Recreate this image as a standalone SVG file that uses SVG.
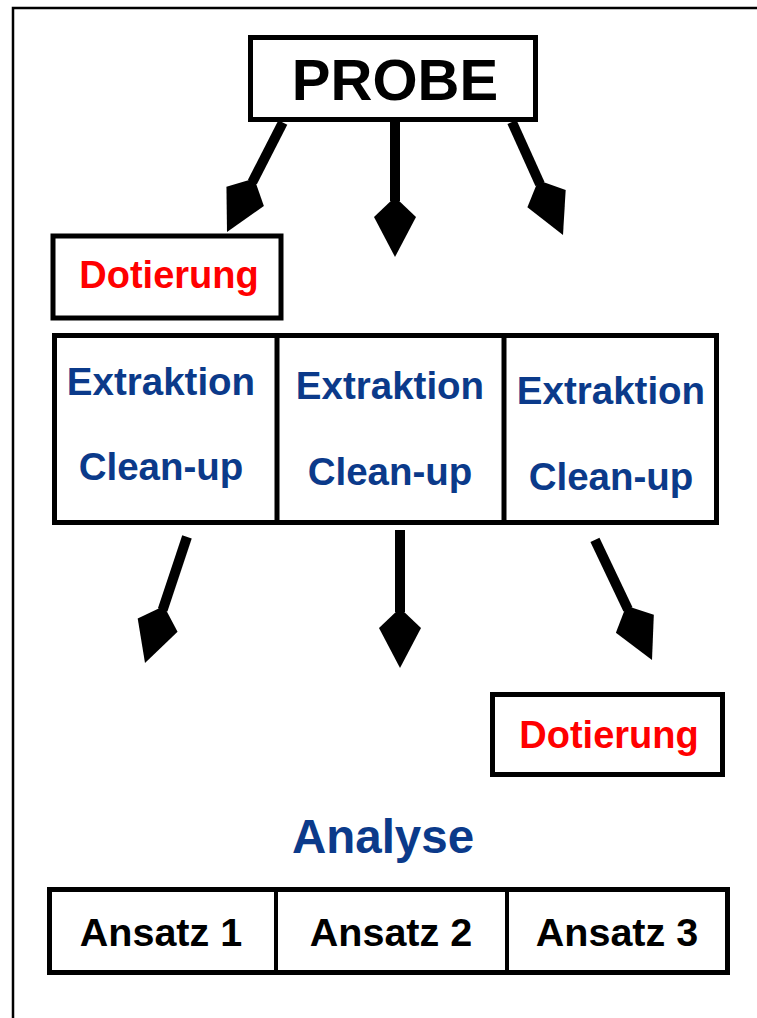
<svg xmlns="http://www.w3.org/2000/svg" width="757" height="1018" viewBox="0 0 757 1018">
<style>
.box{fill:#fff;stroke:#000;stroke-width:5}
.t{font-family:"Liberation Sans",Arial,sans-serif;font-weight:bold;text-anchor:middle}
.red{fill:#ff0000;font-size:38px}
.blue{fill:#0b3a8a;font-size:38.5px}
.blk{fill:#000;font-size:39.5px}
.shaft{stroke:#000;stroke-width:10;fill:none}
.head{fill:#000}
</style>
<defs>
<path id="hd" d="M0,-60 L21,-40 L0,0 L-21,-40 Z"/>
</defs>
<rect width="757" height="1018" fill="#fff"/>
<path d="M13,1018 V8 H757" fill="none" stroke="#000" stroke-width="2.5"/>

<g id="connectors">
  <g transform="translate(227,232) rotate(27)"><line class="shaft" x1="0" y1="-123" x2="0" y2="-56"/><use href="#hd" class="head"/></g>
  <g transform="translate(395,257)"><line class="shaft" x1="0" y1="-135" x2="0" y2="-56"/><use href="#hd" class="head"/></g>
  <g transform="translate(563,235) rotate(-24.3)"><line class="shaft" x1="0" y1="-124" x2="0" y2="-56"/><use href="#hd" class="head"/></g>
  <g transform="translate(145,663) rotate(18.4)"><line class="shaft" x1="0" y1="-133" x2="0" y2="-56"/><use href="#hd" class="head"/></g>
  <g transform="translate(400,668)"><line class="shaft" x1="0" y1="-138" x2="0" y2="-56"/><use href="#hd" class="head"/></g>
  <g transform="translate(652,660) rotate(-25.4)"><line class="shaft" x1="0" y1="-133" x2="0" y2="-56"/><use href="#hd" class="head"/></g>
</g>

<g id="probe">
  <rect class="box" x="250.5" y="37.5" width="285" height="82"/>
  <text class="t" x="395" y="100" style="font-size:58px;fill:#000">PROBE</text>
</g>

<g id="dotierung1">
  <rect class="box" x="53" y="236" width="228" height="82"/>
  <text class="t red" x="169" y="288">Dotierung</text>
</g>

<g id="extraktion">
  <rect class="box" x="54.5" y="335.5" width="662" height="187"/>
  <line x1="277" y1="335" x2="277" y2="523" stroke="#000" stroke-width="5"/>
  <line x1="504" y1="335" x2="504" y2="523" stroke="#000" stroke-width="5"/>
</g>
<g id="ext1">
  <text class="t blue" x="161" y="395">Extraktion</text>
  <text class="t blue" x="161" y="480">Clean-up</text>
</g>
<g id="ext2">
  <text class="t blue" x="390" y="399">Extraktion</text>
  <text class="t blue" x="390" y="485">Clean-up</text>
</g>
<g id="ext3">
  <text class="t blue" x="611" y="404">Extraktion</text>
  <text class="t blue" x="611" y="490">Clean-up</text>
</g>

<g id="dotierung2">
  <rect class="box" x="492.5" y="694.5" width="230" height="80"/>
  <text class="t red" x="609" y="748">Dotierung</text>
</g>

<g id="analyse">
  <text class="t" x="383" y="853" style="font-size:47.5px;fill:#0b3a8a">Analyse</text>
</g>

<g id="ansatz">
  <rect class="box" x="49.5" y="889.5" width="678" height="83"/>
  <line x1="276" y1="889" x2="276" y2="973" stroke="#000" stroke-width="4"/>
  <line x1="507" y1="889" x2="507" y2="973" stroke="#000" stroke-width="4"/>
</g>
<g id="a1"><text class="t blk" x="161" y="946">Ansatz 1</text></g>
<g id="a2"><text class="t blk" x="391" y="946">Ansatz 2</text></g>
<g id="a3"><text class="t blk" x="617" y="946">Ansatz 3</text></g>
</svg>
